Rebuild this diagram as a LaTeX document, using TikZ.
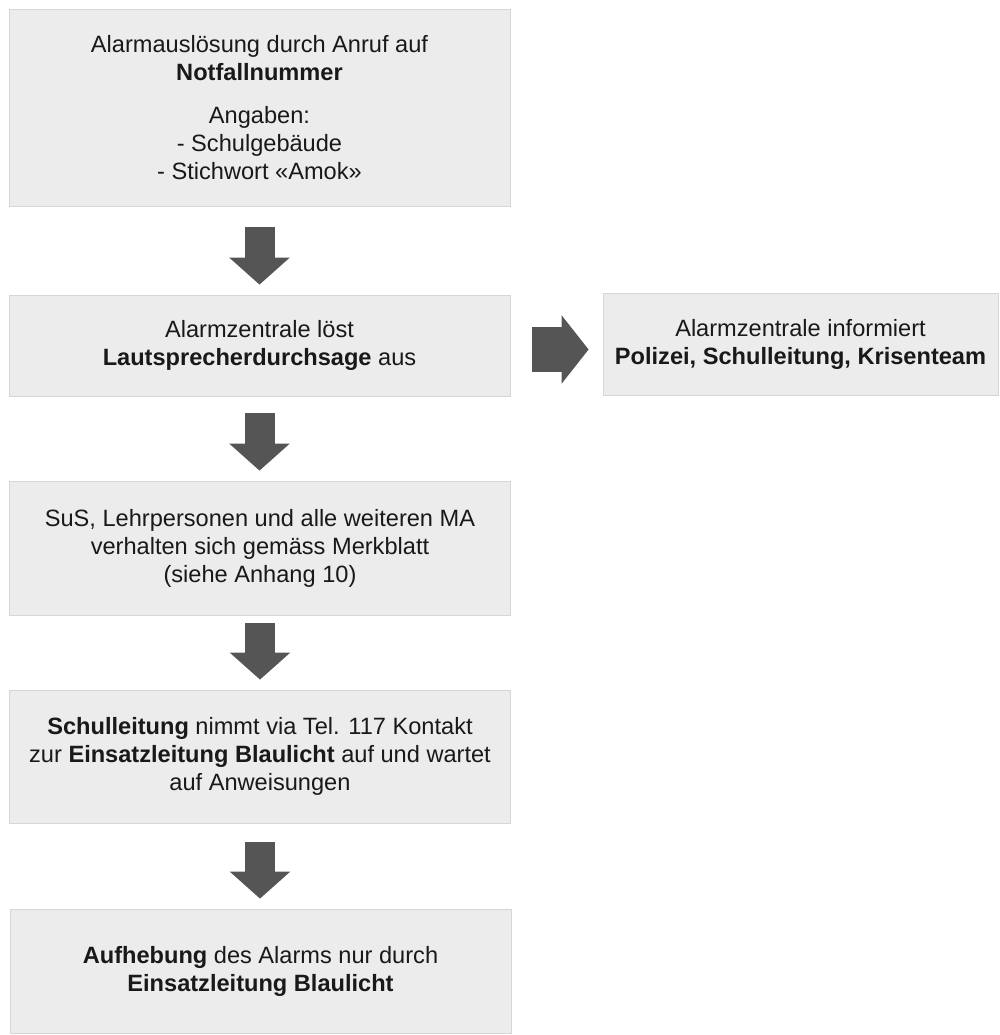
\documentclass[tikz,border=0pt]{standalone}
\usepackage{fontspec}
\setmainfont{Liberation Sans}
\usetikzlibrary{arrows.meta,calc}
\definecolor{boxfill}{RGB}{236,236,236}
\definecolor{boxline}{RGB}{214,214,214}
\definecolor{arrowgray}{RGB}{85,85,85}
\definecolor{txt}{RGB}{25,25,25}
\begin{document}
\begin{tikzpicture}[x=1pt,y=-1pt,
  stepbox/.style={rectangle, fill=boxfill, draw=boxline, line width=0.8pt,
    align=center, text=txt, inner sep=0pt,
    font=\fontsize{23.6}{28}\selectfont},
  downarrow/.style={draw=arrowgray, fill=arrowgray, line width=30pt,
    -{Triangle[width=59pt,length=27pt]}},
  rightarrow/.style={draw=arrowgray, fill=arrowgray, line width=45pt,
    -{Triangle[width=67pt,length=27pt]}}]
\useasboundingbox (0,0) rectangle (999,1035);
\fill[white] (0,0) rectangle (999,1035);

\node[stepbox, minimum width=501pt, minimum height=197pt] (b1) at (259.5,107.5)
  {Alarmauslösung durch Anruf auf\\ \textbf{Notfallnummer}\\[15pt]
   Angaben:\\ - Schulgebäude\\ - Stichwort «Amok»};
\node[stepbox, minimum width=501pt, minimum height=101pt] (b2) at (259.5,345.5)
  {Alarmzentrale löst\\ \textbf{Lautsprecherdurchsage} aus};
\node[stepbox, minimum width=395pt, minimum height=102pt] (bR) at (800.5,344)
  {Alarmzentrale informiert\\ \textbf{Polizei, Schulleitung, Krisenteam}};
\node[stepbox, minimum width=501pt, minimum height=134pt] (b3) at (260,548)
  {SuS, Lehrpersonen und alle weiteren MA\\ verhalten sich gemäss Merkblatt\\ (siehe Anhang 10)};
\node[stepbox, minimum width=501pt, minimum height=133pt] (b4) at (260,756.5)
  {\textbf{Schulleitung} nimmt via Tel. 117 Kontakt\\ zur \textbf{Einsatzleitung Blaulicht} auf und wartet\\ auf Anweisungen};
\node[stepbox, minimum width=501pt, minimum height=124pt] (b5) at (260.5,971)
  {\textbf{Aufhebung} des Alarms nur durch\\ \textbf{Einsatzleitung Blaulicht}};

\draw[downarrow] ($(b1.south)+(0,21)$) -- ($(b2.north)+(0,-10)$);
\draw[downarrow] ($(b2.south)+(0,17)$) -- ($(b3.north)+(-0.5,-10)$);
\draw[downarrow] ($(b3.south)+(0,8)$) -- ($(b4.north)+(0,-10)$);
\draw[downarrow] ($(b4.south)+(0,19)$) -- ($(b5.north)+(-0.5,-10)$);
\draw[rightarrow] ($(b2.east)+(22,4)$) -- ($(bR.west)+(-14,5.5)$);
\end{tikzpicture}
\end{document}
